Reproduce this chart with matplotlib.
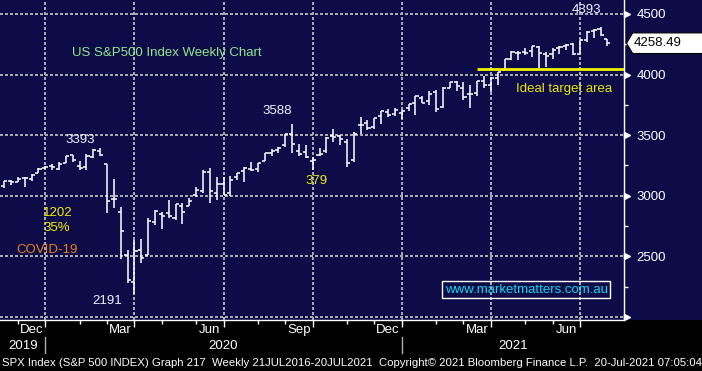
import numpy as np
import pandas as pd
import matplotlib
matplotlib.use("Agg")
import matplotlib.pyplot as plt
from matplotlib.patches import Rectangle, Polygon
from matplotlib.transforms import blended_transform_factory

plt.rcParams['font.family'] = ['Liberation Sans', 'DejaVu Sans']

# SPX weekly bars (week ending Friday), last week is only Monday 19 Jul 2021
week_end = pd.date_range("2019-11-08", "2021-07-23", freq="W-FRI")

opens = [3078, 3081, 3118, 3117, 3144, 3142, 3184, 3226, 3247, 3218,
         3271, 3333, 3247, 3236, 3318, 3369, 3258, 2974, 2864, 2509,
         2291, 2555, 2515, 2783, 2846, 2855, 2815, 2916, 2914, 3005,
         3039, 3200, 3019, 3094, 3019, 3155, 3205, 3224, 3220, 3288,
         3356, 3381, 3418, 3507, 3370, 3364, 3286, 3334, 3367, 3489,
         3494, 3441, 3296, 3583, 3600, 3567, 3654, 3695, 3675, 3684,
         3723, 3765, 3803, 3782, 3852, 3731, 3893, 3940, 3886, 3842,
         3844, 3943, 3917, 3971, 4034, 4125, 4180, 4185, 4192, 4228,
         4170, 4169, 4217, 4232, 4249, 4173, 4285, 4357, 4372, 4296]
highs = [3098, 3120, 3128, 3154, 3151, 3176, 3226, 3248, 3258, 3282,
         3330, 3338, 3286, 3348, 3385, 3393, 3260, 3137, 2911, 2554,
         2637, 2641, 2819, 2879, 2869, 2964, 2934, 2944, 2980, 3069,
         3212, 3233, 3156, 3155, 3166, 3191, 3238, 3279, 3272, 3353,
         3388, 3400, 3509, 3588, 3426, 3420, 3320, 3394, 3482, 3550,
         3502, 3465, 3529, 3646, 3629, 3644, 3699, 3712, 3727, 3711,
         3760, 3827, 3824, 3862, 3871, 3895, 3937, 3950, 3935, 3915,
         3945, 3984, 3978, 4021, 4130, 4191, 4194, 4219, 4238, 4236,
         4189, 4218, 4238, 4250, 4262, 4286, 4356, 4372, 4393, 4296]
lows = [3066, 3065, 3091, 3117, 3070, 3124, 3184, 3223, 3214, 3215,
        3271, 3282, 3215, 3216, 3315, 3329, 2856, 2902, 2479, 2281,
        2192, 2448, 2515, 2762, 2727, 2815, 2798, 2767, 2914, 2992,
        3025, 2937, 2966, 3005, 3000, 3128, 3116, 3201, 3199, 3285,
        3331, 3355, 3402, 3350, 3329, 3313, 3210, 3324, 3354, 3440,
        3420, 3234, 3280, 3512, 3544, 3553, 3594, 3646, 3660, 3637,
        3702, 3663, 3765, 3749, 3694, 3726, 3885, 3865, 3789, 3723,
        3819, 3886, 3854, 3917, 4034, 4118, 4119, 4164, 4142, 4057,
        4061, 4128, 4168, 4204, 4164, 4173, 4272, 4301, 4321, 4233]
closes = [3093, 3120, 3110, 3141, 3146, 3169, 3221, 3240, 3235, 3265,
          3330, 3295, 3226, 3328, 3380, 3338, 2954, 2972, 2711, 2305,
          2541, 2489, 2790, 2875, 2837, 2831, 2930, 2864, 2955, 3044,
          3194, 3041, 3098, 3009, 3130, 3185, 3225, 3216, 3271, 3351,
          3373, 3397, 3508, 3427, 3341, 3319, 3298, 3348, 3477, 3484,
          3465, 3270, 3509, 3585, 3558, 3638, 3699, 3663, 3709, 3703,
          3756, 3825, 3768, 3841, 3714, 3887, 3935, 3907, 3811, 3842,
          3943, 3913, 3975, 4020, 4129, 4185, 4180, 4181, 4233, 4174,
          4156, 4204, 4230, 4247, 4166, 4281, 4352, 4370, 4327, 4258.49]

price_levels = [2000, 2500, 3000, 3500, 4000, 4500]
minor_levels = [2250, 2750, 3250, 3750, 4250]
target_level = 4045
last_price = closes[-1]

navy = "#0e0c48"
grid_col = "#a8a8b0"
idx = np.arange(len(week_end))

# month / quarter / year boundaries in bar-index space
months = week_end.to_period("M")
month_end = [i for i in idx[:-1] if months[i] != months[i + 1]]
quarter_end = [i for i in month_end if week_end[i].month in (3, 6, 9, 12)]
year_end = [i for i in month_end if week_end[i].month == 12]

fig = plt.figure(figsize=(7.02, 3.71), dpi=100, facecolor="black")
fig.patches.append(Rectangle((0, 51 / 371), 1, 320 / 371, transform=fig.transFigure,
                             facecolor=navy, edgecolor="none", zorder=-5))
ax = fig.add_axes([0, 51 / 371, 624 / 702, 320 / 371])
ax.set_zorder(1)
ax.set_facecolor(navy)
ax.set_xlim(0.39, 91.42)
ax.set_ylim(1975, 4615)
x0, x1 = ax.get_xlim()

for s in ("left", "top"):
    ax.spines[s].set_visible(False)
for s in ("right", "bottom"):
    ax.spines[s].set_color("white")
    ax.spines[s].set_linewidth(1.0)

# y axis on the right
ax.yaxis.tick_right()
ax.set_yticks(price_levels)
ax.set_yticklabels([""] + [str(v) for v in price_levels[1:]])
ax.set_yticks(minor_levels, minor=True)
ax.tick_params(axis="y", which="major", length=0, pad=9, labelcolor="white", labelsize=9.5)
ax.tick_params(axis="y", which="minor", length=3, color="white", width=1)

# x axis ticks at month ends, majors at quarter ends
ax.set_xticks(quarter_end)
ax.set_xticks(month_end, minor=True)
ax.set_xticklabels([])
ax.tick_params(axis="x", which="major", length=5, color="white", width=1)
ax.tick_params(axis="x", which="minor", length=3, color="white", width=1)

ax.grid(True, which="major", color=grid_col, linestyle=(0, (1, 1.4)),
        linewidth=1.5, antialiased=False)
ax.set_axisbelow(True)

# weekly OHLC bars
ax.vlines(idx, lows, highs, color="white", lw=1.1, zorder=3)
ax.hlines(opens, idx - 0.45, idx, color="white", lw=1.1, zorder=3)
ax.hlines(closes, idx, idx + 0.45, color="white", lw=1.1, zorder=3)

# target line
ax.hlines(target_level, 70, x1, color="#f0f000", lw=2, zorder=4)
ax.text(82.7, 3881, "Ideal target area", color="#e8e800", fontsize=9.5,
        ha="center", va="center")

# annotations
lab = "#eef0ff"
ax.text(12.1, 3460, "3393", color=lab, fontsize=9.5, ha="center", va="center")
ax.text(40.9, 3700, "3588", color=lab, fontsize=9.5, ha="center", va="center")
ax.text(46.6, 3122, "379", color="#f0f000", fontsize=9.5, ha="center", va="center")
ax.text(86.0, 4533, "4393", color=lab, fontsize=9.5, ha="center", va="center")
ax.text(16.0, 2132, "2191", color=lab, fontsize=9.5, ha="center", va="center")
ax.text(6.7, 2858, "1202", color="#f0f000", fontsize=9.5, ha="left", va="center")
ax.text(6.7, 2730, "35%", color="#f0f000", fontsize=9.5, ha="left", va="center")
ax.text(7.2, 2553, "COVID-19", color="#e8801e", fontsize=9.5, ha="center", va="center")
ax.text(0.268, 0.833, "US S&P500 Index Weekly Chart", transform=ax.transAxes,
        color="#8ee88e", fontsize=9.5, ha="center", va="center")
ax.text(0.843, 0.095, "www.marketmatters.com.au", transform=ax.transAxes,
        color="#10d8f0", fontsize=9.5, ha="center", va="center",
        bbox=dict(boxstyle="square,pad=0.2", facecolor="none", edgecolor="white", lw=1))

# right axis arrow markers and price tag
yt = blended_transform_factory(ax.transAxes, ax.transData)
ax.plot(np.full(len(price_levels), 1.0056), price_levels, transform=yt, ls="none",
        marker=">", ms=5, color="white", clip_on=False)
tag = Polygon([(1.004, last_price), (1.014, last_price + 85), (1.13, last_price + 85),
               (1.13, last_price - 85), (1.014, last_price - 85)],
              closed=True, transform=yt, facecolor="white", edgecolor="black",
              lw=0.8, clip_on=False, zorder=5)
ax.add_patch(tag)
ax.text(1.016, last_price, f"{last_price:.2f}", transform=yt, color="black",
        fontsize=9.5, ha="left", va="center", zorder=6)

# month labels, centred over each month's bars
xt = blended_transform_factory(ax.transData, ax.transAxes)
names = {12: "Dec", 3: "Mar", 6: "Jun", 9: "Sep"}
for k in range(1, len(month_end)):
    m = week_end[month_end[k]].month
    if m in names:
        ax.text((month_end[k - 1] + month_end[k]) / 2, -0.031, names[m], transform=xt,
                color="white", fontsize=9.5, ha="center", va="center")

# year labels and separators
bounds = [x0] + year_end + [x1]
for k in range(len(bounds) - 1):
    yr = week_end[year_end[0]].year + k
    ax.text((bounds[k] + bounds[k + 1]) / 2, -0.082, str(yr), transform=xt,
            color="white", fontsize=9.5, ha="center", va="center")
for i in year_end:
    ax.plot([i, i], [-0.053, -0.103], transform=xt, color="#b0b0b0", lw=1, clip_on=False)

footer = ("SPX Index (S&P 500 INDEX) Graph 217  Weekly 21JUL2016-20JUL2021  "
          "Copyright\u00a9 2021 Bloomberg Finance L.P.  20-Jul-2021 07:05:04")
fig.text(0.003, 1 - 363 / 371, footer, color="white", fontsize=8.2, ha="left", va="center")

fig.savefig("out.png", dpi=100, facecolor=fig.get_facecolor())
